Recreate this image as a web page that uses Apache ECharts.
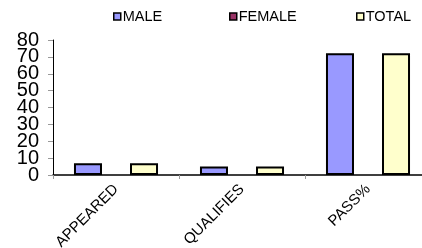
<!DOCTYPE html>
<html>
<head>
<meta charset="utf-8">
<script src="https://cdn.jsdelivr.net/npm/echarts@6/dist/echarts.min.js"></script>
<style>
  html, body { margin: 0; padding: 0; background: #fff; }
  #chart { width: 422px; height: 248px; }
</style>
</head>
<body>
<div id="chart"></div>
<script>
var categories = ['APPEARED', 'QUALIFIES', 'PASS%'];
var maleValues = [7, 5, 72.2];
var femaleValues = [0, 0, 0];
var totalValues = [7, 5, 72.2];
var yTicks = [0, 10, 20, 30, 40, 50, 60, 70, 80];

var chart = echarts.init(document.getElementById('chart'), null, { renderer: 'canvas' });

var font = 'Liberation Sans, Arial, sans-serif';

function legendAt(name, left) {
  return {
    data: [{ name: name, itemStyle: { borderColor: '#000', borderWidth: 1.5 } }],
    left: left,
    top: 9,
    itemWidth: 7,
    itemHeight: 7,
    itemGap: 0,
    padding: 0,
    icon: 'rect',
    textStyle: { fontFamily: font, fontSize: 14.5, color: '#000', padding: [0, 0, 0, -3] }
  };
}

// labels are tall and packed tightly, so split them over two stacked axes
// (ECharts would otherwise drop the overlapping ones)
function valueAxis(odd, visibleLine) {
  return {
    type: 'value',
    position: 'left',
    min: yTicks[0],
    max: yTicks[yTicks.length - 1],
    interval: 10,
    axisLine: { show: visibleLine, lineStyle: { color: '#000', width: 1 } },
    axisTick: { show: visibleLine, length: 5, lineStyle: { color: '#999' } },
    axisLabel: {
      margin: 14,
      fontFamily: font,
      fontSize: 20,
      color: '#000',
      showMinLabel: true,
      showMaxLabel: true,
      formatter: function (v) {
        return ((v / 10) % 2 === 1) === odd ? String(v) : '';
      }
    },
    splitLine: { show: false }
  };
}

var option = {
  animation: false,
  color: ['#9999FF', '#993366', '#FFFFCC'],
  legend: [
    legendAt('MALE', 113),
    legendAt('FEMALE', 229),
    legendAt('TOTAL', 356)
  ],
  grid: {
    left: 53,
    width: 378,
    top: 40,
    bottom: 73,
    outerBoundsMode: 'none'
  },
  xAxis: {
    type: 'category',
    data: categories,
    axisLine: { lineStyle: { color: '#000', width: 1.5 } },
    axisTick: { show: true, length: 4, lineStyle: { color: '#999' } },
    axisLabel: {
      rotate: 45,
      margin: 12,
      fontFamily: font,
      fontSize: 15,
      color: '#000'
    },
    splitLine: { show: false }
  },
  yAxis: [valueAxis(false, true), valueAxis(true, false)],
  series: [
    {
      name: 'MALE',
      type: 'bar',
      data: maleValues,
      barGap: '0%',
      barCategoryGap: '33.3%',
      itemStyle: { borderColor: '#000', borderWidth: 2 }
    },
    {
      name: 'FEMALE',
      type: 'bar',
      data: femaleValues,
      barGap: '0%',
      barCategoryGap: '33.3%',
      itemStyle: { borderColor: '#000', borderWidth: 0 }
    },
    {
      name: 'TOTAL',
      type: 'bar',
      data: totalValues,
      barGap: '0%',
      barCategoryGap: '33.3%',
      itemStyle: { borderColor: '#000', borderWidth: 2 }
    }
  ]
};

chart.setOption(option);
</script>
</body>
</html>
